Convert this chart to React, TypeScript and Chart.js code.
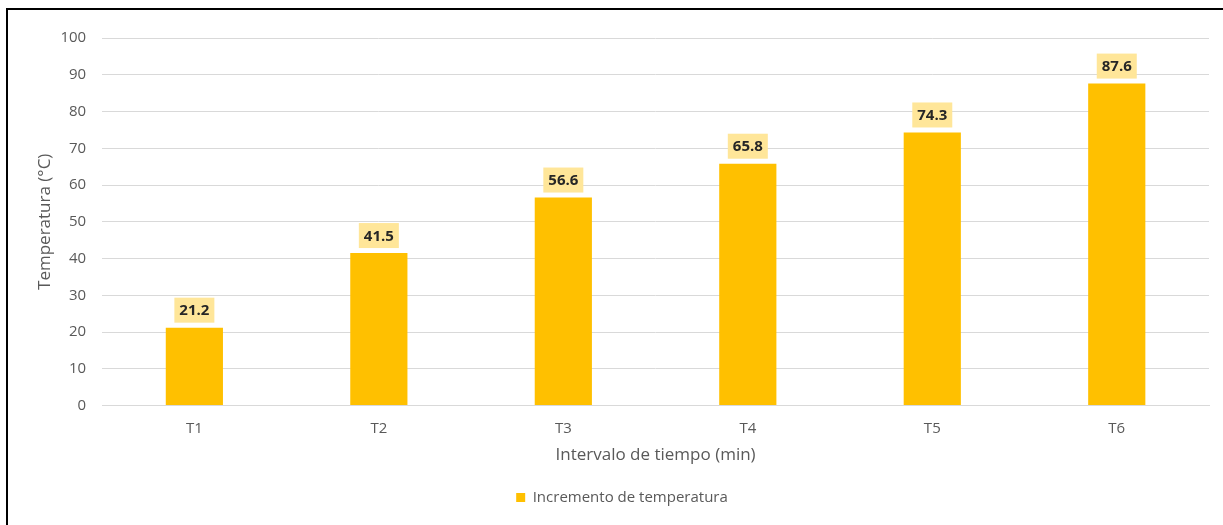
import React, { useEffect, useRef } from "react";
import { Chart, registerables } from "chart.js";

Chart.register(...registerables);

const categories = ["T1", "T2", "T3", "T4", "T5", "T6"];
const values = [21.2, 41.5, 56.6, 65.8, 74.3, 87.6];
const seriesName = "Incremento de temperatura";
const yTitle = "Temperatura (°C)";
const xTitle = "Intervalo de tiempo (min)";

const FONT = "'Open Sans', sans-serif";

const labelPlugin = {
  id: "barLabels",
  afterDatasetsDraw(chart: any) {
    const ctx = chart.ctx;
    const meta = chart.getDatasetMeta(0);
    ctx.save();
    ctx.font = `bold 15px ${FONT}`;
    ctx.textAlign = "center";
    ctx.textBaseline = "middle";
    meta.data.forEach((bar: any, i: number) => {
      const txt = values[i].toFixed(1);
      const w = ctx.measureText(txt).width + 10;
      const h = 25;
      const cx = bar.x;
      const bottom = bar.y - 5;
      ctx.fillStyle = "#FFE699";
      ctx.fillRect(cx - w / 2, bottom - h, w, h);
      ctx.fillStyle = "#262626";
      ctx.fillText(txt, cx, bottom - h / 2 + 1);
    });
    ctx.restore();
  },
};

export default function App() {
  const ref = useRef<HTMLCanvasElement>(null);
  useEffect(() => {
    if (!ref.current) return;
    const chart = new Chart(ref.current, {
      type: "bar",
      data: {
        labels: categories,
        datasets: [
          {
            label: seriesName,
            data: values,
            backgroundColor: "#FFC000",
            borderWidth: 0,
            barPercentage: 0.31,
            categoryPercentage: 1,
          },
        ],
      },
      options: {
        animation: false,
        responsive: false,
        maintainAspectRatio: false,
        layout: { padding: { top: 38, right: 14, left: 35, bottom: 10 } },
        plugins: {
          tooltip: { enabled: false },
          legend: {
            position: "bottom",
            labels: {
              boxWidth: 9,
              boxHeight: 9,
              color: "#595959",
              font: { family: FONT, size: 15 },
              padding: 16,
            },
          },
        },
        scales: {
          x: {
            grid: { display: false, drawTicks: false },
            border: { display: true, color: "#d9d9d9" },
            ticks: { color: "#595959", font: { family: FONT, size: 15 }, padding: 14 },
            title: {
              display: true,
              text: xTitle,
              color: "#595959",
              font: { family: FONT, size: 17 },
              padding: { top: -7, bottom: 9 },
            },
          },
          y: {
            min: 0,
            max: 100,
            ticks: { stepSize: 10, color: "#595959", font: { family: FONT, size: 15 }, padding: 16 },
            grid: { color: "#d9d9d9", drawTicks: false },
            border: { display: false },
            title: {
              display: true,
              text: yTitle,
              color: "#595959",
              font: { family: FONT, size: 17 },
              padding: { top: 0, bottom: -11 },
            },
          },
        },
      },
      plugins: [labelPlugin],
    });
    return () => chart.destroy();
  }, []);
  return (
    <div style={{ position: "fixed", left: 0, top: 0, width: 1223, height: 525, background: "#fff" }}>
      <canvas ref={ref} width={1223} height={525} style={{ position: "absolute", left: 0, top: 0 }} />
      <div
        style={{
          position: "absolute",
          left: 6,
          top: 8,
          width: 1230,
          height: 530,
          borderTop: "2px solid #000",
          borderLeft: "2px solid #000",
        }}
      />
    </div>
  );
}
